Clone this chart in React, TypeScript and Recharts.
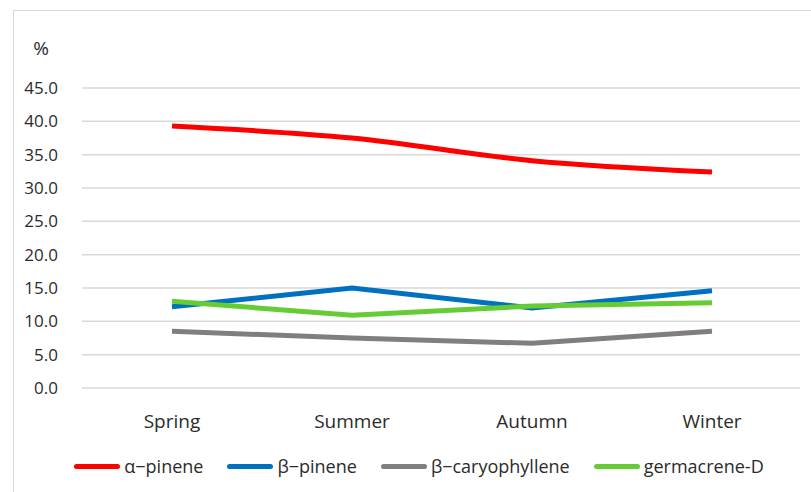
import React from 'react';
import { LineChart, Line, XAxis, YAxis, CartesianGrid, Legend } from 'recharts';

const seasons = ['Spring', 'Summer', 'Autumn', 'Winter'];
const alphaPinene = [39.3, 37.5, 34.1, 32.4];
const betaPinene = [12.2, 15.0, 12.0, 14.6];
const betaCaryophyllene = [8.5, 7.5, 6.7, 8.5];
const germacreneD = [13.0, 10.9, 12.3, 12.8];
const yTicks = [0, 5, 10, 15, 20, 25, 30, 35, 40, 45];

const SERIES = [
  { key: 'a', name: 'α−pinene', color: '#ff0000', values: alphaPinene, type: 'monotone' },
  { key: 'b', name: 'β−pinene', color: '#0070c0', values: betaPinene, type: 'linear' },
  { key: 'c', name: 'β−caryophyllene', color: '#7f7f7f', values: betaCaryophyllene, type: 'linear' },
  { key: 'd', name: 'germacrene-D', color: '#66cc33', values: germacreneD, type: 'linear' },
];

const data = seasons.map((s, i) => {
  const row: any = { season: s };
  SERIES.forEach((sr) => (row[sr.key] = sr.values[i]));
  return row;
});

const FONT = '"Open Sans", "Noto Sans", sans-serif';
const TEXT = '#2b2b2b';

const renderLegend = () => (
  <div style={{ display: 'flex', justifyContent: 'center', gap: 24, paddingLeft: 38, fontFamily: FONT, fontSize: 18, color: TEXT }}>
    {SERIES.map((s) => (
      <div key={s.key} style={{ display: 'flex', alignItems: 'center' }}>
        <span style={{ display: 'inline-block', width: 46, height: 5, borderRadius: 3, background: s.color, marginRight: 4 }} />
        <span>{s.name}</span>
      </div>
    ))}
  </div>
);

const XTick = (props: any) => {
  const { x, y, payload } = props;
  return (
    <text x={x} y={y + 32} textAnchor="middle" fontFamily={FONT} fontSize={19} fill={TEXT}>
      {payload.value}
    </text>
  );
};

const App: React.FC = () => {
  return (
    <div style={{ position: 'fixed', left: 0, top: 0, width: 811, height: 492, background: '#fff' }}>
      <div style={{ position: 'absolute', left: 13, top: 10, width: 820, height: 500, borderLeft: '1.5px solid #d9d9d9', borderTop: '1.5px solid #d9d9d9' }} />
      <LineChart width={811} height={492} data={data} margin={{ top: 88, right: 11, left: 0, bottom: 0 }}>
        <CartesianGrid vertical={false} stroke="#d9d9d9" strokeWidth={1.5} />
        <XAxis
          dataKey="season"
          axisLine={false}
          tickLine={false}
          tick={<XTick />}
          height={80}
          interval={0}
          padding={{ left: 90, right: 88 }}
        />
        <YAxis
          domain={[0, 45]}
          ticks={yTicks}
          width={82}
          axisLine={false}
          tickLine={false}
          tickMargin={18}
          tickFormatter={(v: number) => v.toFixed(1)}
          tick={{ fontFamily: FONT, fontSize: 17, fill: TEXT }}
          label={{ value: '%', position: 'top', offset: 33, dx: 0, style: { fontFamily: FONT, fontSize: 19, fill: TEXT } }}
        />
        <Legend verticalAlign="bottom" content={renderLegend} wrapperStyle={{ bottom: 14 }} />
        {SERIES.map((s) => (
          <Line
            key={s.key}
            type={s.type as any}
            dataKey={s.key}
            name={s.name}
            stroke={s.color}
            strokeWidth={5}
            dot={false}
            isAnimationActive={false}
          />
        ))}
      </LineChart>
    </div>
  );
};

export default App;
